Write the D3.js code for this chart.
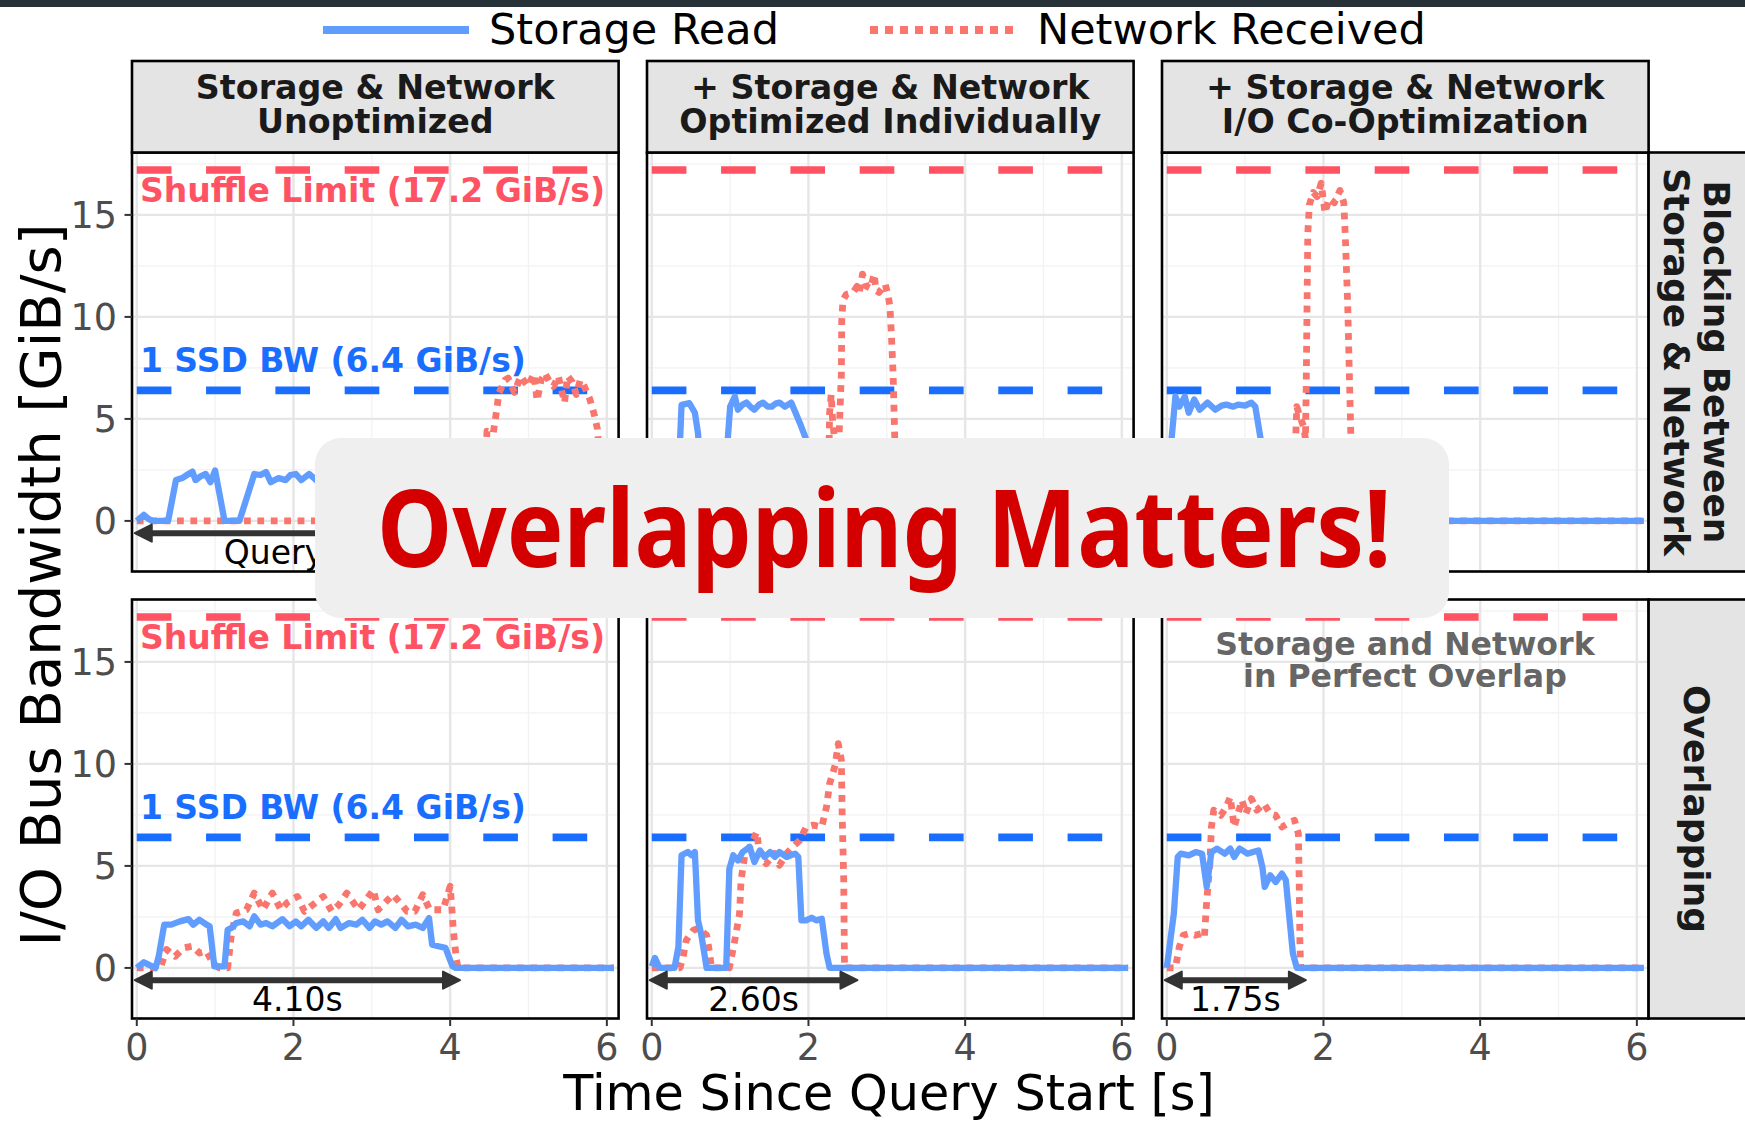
<!DOCTYPE html>
<html><head><meta charset="utf-8">
<script src="https://cdn.jsdelivr.net/npm/d3@7"></script>
<style>
html,body{margin:0;padding:0;background:#fff;}
svg{display:block;font-family:"DejaVu Sans",sans-serif;}
</style>
</head><body>
<svg id="chart" width="1745" height="1123"></svg>
<script>
// ---------------- DATA ----------------
const columnLabels = [["Storage & Network", "Unoptimized"],
                      ["+ Storage & Network", "Optimized Individually"],
                      ["+ Storage & Network", "I/O Co-Optimization"]];
const rowLabels = [["Blocking Between", "Storage & Network"], ["Overlapping"]];
const seriesNames = ["Storage Read", "Network Received"];
const xTicks = [0, 2, 4, 6];
const xMinor = [1, 3, 5];
const yTicks = [0, 5, 10, 15];
const yMinor = [2.5, 7.5, 12.5, 17.5];
const shuffleLimit = 17.2;
const ssdBandwidth = 6.4;
const shuffleLabel = "Shuffle Limit (17.2 GiB/s)";
const ssdLabel = "1 SSD BW (6.4 GiB/s)";
const overlapNote = ["Storage and Network", "in Perfect Overlap"];
const headline = "Overlapping Matters!";

// query durations [row][col] and their labels (top-row labels mostly hidden by the headline box)
const queryDurations = [[6.10, 3.10, 2.35], [4.10, 2.60, 1.75]];
const durationLabels = [["Query Time: 6.10s", "", ""],
                        ["4.10s", "2.60s", "1.75s"]];

// [time s, GiB/s]
const storageUnoptBlocking = [[0,0],[0.09,0.3],[0.15,0.1],[0.2,0],[0.4,0],[0.5,2.0],[0.58,2.1],[0.64,2.25],[0.71,2.42],[0.75,2.0],[0.82,2.2],[0.88,2.3],[0.94,1.9],[1.0,2.47],[1.12,0],[1.31,0],[1.5,2.3],[1.58,2.25],[1.65,2.4],[1.71,1.9],[1.81,2.1],[1.9,2.0],[1.96,2.25],[2.03,2.3],[2.1,2.0],[2.2,2.3],[2.29,2.0],[2.38,2.3],[2.47,2.0],[2.56,2.35],[2.65,2.0],[2.75,2.25],[2.85,2.1],[2.95,2.35],[3.05,2.0],[3.15,2.3],[3.25,2.05],[3.35,2.3],[3.45,2.0],[3.55,2.25],[3.65,2.0],[3.75,2.4],[3.8,1.1],[3.95,1.0],[4.05,0.1],[4.1,0],[6.09,0]];
const networkUnoptBlocking = [[0,0],[4.4,0],[4.45,2.5],[4.47,4.4],[4.55,4.3],[4.6,5.6],[4.62,6.25],[4.7,6.9],[4.74,7.0],[4.82,6.3],[4.9,7.1],[4.99,6.6],[5.07,7.2],[5.11,5.9],[5.16,6.9],[5.21,7.25],[5.27,6.8],[5.32,6.6],[5.38,7.1],[5.46,5.8],[5.5,7.1],[5.56,6.8],[5.61,6.2],[5.66,6.9],[5.7,6.7],[5.78,6.0],[5.84,5.2],[5.88,4.5],[5.93,1.5],[5.96,0],[6.09,0]];

const storageIndivBlocking = [[0,0],[0.3,0],[0.34,2.0],[0.38,5.69],[0.48,5.77],[0.55,5.3],[0.59,4.3],[0.64,1.5],[0.7,0],[0.92,0],[0.97,4.0],[1.0,5.6],[1.06,6.1],[1.1,5.45],[1.16,5.7],[1.21,5.8],[1.26,5.6],[1.31,5.45],[1.37,5.7],[1.42,5.8],[1.48,5.6],[1.53,5.6],[1.58,5.75],[1.63,5.8],[1.7,5.6],[1.78,5.8],[1.89,4.8],[1.97,4.0],[2.0,2.4],[2.1,2.3],[2.17,2.4],[2.23,0.7],[2.27,0],[6.09,0]];
const networkIndivBlocking = [[0,0],[2.24,0],[2.26,3.0],[2.27,5.3],[2.29,6.2],[2.31,4.8],[2.35,3.5],[2.39,4.1],[2.42,7.25],[2.425,9.85],[2.44,10.8],[2.48,11.1],[2.57,11.2],[2.62,11.5],[2.65,11.2],[2.69,12.1],[2.74,11.5],[2.79,11.4],[2.84,12.1],[2.86,11.3],[2.9,11.2],[2.98,11.6],[3.02,11.0],[3.04,10.5],[3.06,9.0],[3.08,7.25],[3.1,4.3],[3.12,0],[6.09,0]];

const storageCooptBlocking = [[0,0],[0.03,1.0],[0.06,3.97],[0.11,6.1],[0.16,5.6],[0.23,6.1],[0.28,5.3],[0.35,5.95],[0.42,5.45],[0.52,5.8],[0.62,5.45],[0.7,5.65],[0.76,5.7],[0.85,5.6],[0.91,5.7],[1.0,5.65],[1.08,5.8],[1.13,5.6],[1.2,3.97],[1.25,1.5],[1.3,0],[6.09,0]];
const networkCooptBlocking = [[0,0],[1.62,0],[1.64,3.5],[1.66,5.6],[1.7,5.1],[1.75,4.6],[1.77,4.0],[1.78,6.6],[1.79,10.5],[1.8,14.1],[1.82,15.5],[1.87,16.1],[1.92,15.9],[1.97,16.55],[2.02,15.1],[2.07,15.8],[2.14,15.6],[2.21,16.2],[2.26,15.6],[2.28,13.8],[2.31,10.5],[2.33,7.25],[2.35,4.1],[2.38,0],[6.09,0]];

const storageUnoptOverlap = [[0,0],[0.09,0.28],[0.15,0.16],[0.24,0],[0.28,0.57],[0.35,2.12],[0.44,2.12],[0.55,2.28],[0.66,2.39],[0.72,2.12],[0.8,2.36],[0.89,2.12],[0.93,2.04],[0.99,0.08],[1.12,0.08],[1.16,1.87],[1.21,1.96],[1.27,2.2],[1.36,2.28],[1.44,2.04],[1.5,2.53],[1.58,2.12],[1.65,2.2],[1.73,2.04],[1.86,2.39],[1.95,2.04],[2.03,2.28],[2.1,2.04],[2.19,2.36],[2.29,1.96],[2.38,2.28],[2.45,1.96],[2.54,2.39],[2.6,1.96],[2.71,2.2],[2.8,2.12],[2.88,2.36],[2.97,1.96],[3.04,2.28],[3.12,2.12],[3.2,2.28],[3.3,1.96],[3.38,2.36],[3.46,2.04],[3.56,2.12],[3.65,1.96],[3.73,2.44],[3.77,1.14],[3.85,1.06],[3.94,0.98],[4.03,0.08],[4.07,0],[6.09,0]];
const networkUnoptOverlap = [[0,0],[0.3,0],[0.38,0.9],[0.49,0.57],[0.6,0.98],[0.71,1.06],[0.8,0.73],[0.89,0.82],[0.97,0.24],[1.05,0],[1.16,0],[1.21,1.71],[1.27,2.69],[1.4,2.85],[1.5,3.67],[1.61,2.85],[1.73,3.67],[1.84,2.85],[1.92,3.2],[2.05,3.5],[2.14,2.77],[2.25,3.1],[2.38,3.5],[2.49,2.77],[2.58,3.1],[2.68,3.67],[2.83,2.85],[2.92,3.3],[3.02,3.83],[3.08,2.85],[3.17,3.2],[3.27,3.59],[3.4,3.02],[3.45,2.77],[3.55,2.77],[3.65,3.59],[3.74,2.85],[3.91,2.85],[4.0,4.0],[4.02,3.02],[4.04,1.87],[4.08,0.4],[4.1,0],[6.09,0]];

const storageIndivOverlap = [[0,0.08],[0.04,0.49],[0.1,0],[0.29,0],[0.34,1.03],[0.38,5.52],[0.46,5.68],[0.51,5.52],[0.55,5.68],[0.59,2.33],[0.63,1.68],[0.7,0],[0.95,0],[0.99,4.86],[1.04,5.52],[1.1,5.27],[1.16,5.68],[1.25,5.93],[1.31,5.19],[1.38,5.76],[1.44,5.44],[1.51,5.68],[1.57,5.44],[1.63,5.68],[1.72,5.44],[1.83,5.6],[1.87,5.44],[1.91,2.33],[1.97,2.33],[2.04,2.46],[2.1,2.33],[2.17,2.41],[2.23,0.7],[2.27,0],[6.08,0]];
const networkIndivOverlap = [[0,0],[0.36,0],[0.4,0.54],[0.44,1.36],[0.53,1.85],[0.59,1.93],[0.7,1.6],[0.74,0.7],[0.76,0],[0.99,0],[1.06,1.36],[1.12,2.66],[1.14,4.3],[1.19,5.6],[1.25,5.93],[1.34,6.66],[1.38,5.44],[1.46,5.11],[1.57,5.6],[1.63,5.03],[1.72,5.6],[1.8,5.93],[1.89,6.26],[1.97,6.91],[2.06,7.0],[2.17,6.91],[2.23,7.89],[2.27,9.03],[2.34,9.93],[2.38,10.99],[2.42,10.19],[2.43,7.58],[2.45,4.3],[2.46,0],[6.08,0]];

const storageCooptOverlap = [[0,0],[0.09,2.66],[0.14,5.44],[0.18,5.6],[0.28,5.52],[0.37,5.68],[0.45,5.6],[0.51,3.97],[0.57,5.68],[0.64,5.85],[0.74,5.6],[0.81,5.85],[0.86,5.44],[0.93,5.85],[1.03,5.6],[1.1,5.68],[1.17,5.76],[1.22,4.95],[1.25,3.97],[1.32,4.54],[1.39,4.21],[1.47,4.62],[1.52,4.3],[1.56,2.66],[1.61,0.7],[1.66,0],[6.09,0]];
const networkCooptOverlap = [[0,0],[0.11,0],[0.16,1.03],[0.21,1.6],[0.28,1.68],[0.36,1.6],[0.45,1.68],[0.48,1.52],[0.51,3.31],[0.55,5.11],[0.57,6.91],[0.6,7.73],[0.69,7.48],[0.76,7.89],[0.81,8.38],[0.86,6.91],[0.96,8.22],[1.01,7.56],[1.08,8.3],[1.15,7.73],[1.24,8.06],[1.32,7.56],[1.39,7.48],[1.47,6.91],[1.54,7.07],[1.63,7.24],[1.68,6.58],[1.69,4.3],[1.7,1.03],[1.71,0],[6.09,0]];

// panels [row][col] -> {storage, network}
const panelSeries = [
  [{storage: storageUnoptBlocking, network: networkUnoptBlocking},
   {storage: storageIndivBlocking, network: networkIndivBlocking},
   {storage: storageCooptBlocking, network: networkCooptBlocking}],
  [{storage: storageUnoptOverlap, network: networkUnoptOverlap},
   {storage: storageIndivOverlap, network: networkIndivOverlap},
   {storage: storageCooptOverlap, network: networkCooptOverlap}]
];

// ---------------- STYLE / LAYOUT ----------------
const colStorage = "#619CFF", colNetwork = "#F8766D";
const colShuffle = "#FF5263", colSSD = "#1A6EFF";
const colLeft = [132, 647, 1162], panelW = 486.6;
const rowTop = [152.5, 599.5], panelH = 419;
const xDomain = [-0.061, 6.15], yDomain = [-2.48, 18.06];

const svg = d3.select("#chart");
svg.append("rect").attr("x",0).attr("y",0).attr("width",1745).attr("height",1123).attr("fill","#fff");
svg.append("rect").attr("x",0).attr("y",0).attr("width",1745).attr("height",7).attr("fill","#263238");

const defs = svg.append("defs");

const line = (xs, ys) => d3.line().x(d => xs(d[0])).y(d => ys(d[1])).curve(d3.curveLinear);

for (let r = 0; r < 2; r++) {
  for (let c = 0; c < 3; c++) {
    const x = d3.scaleLinear().domain(xDomain).range([colLeft[c], colLeft[c] + panelW]);
    const y = d3.scaleLinear().domain(yDomain).range([rowTop[r] + panelH, rowTop[r]]);
    const id = `clip-${r}-${c}`;
    defs.append("clipPath").attr("id", id).append("rect")
      .attr("x", colLeft[c]).attr("y", rowTop[r]).attr("width", panelW).attr("height", panelH);
    const g = svg.append("g");
    const gp = g.append("g").attr("clip-path", `url(#${id})`);
    gp.append("rect").attr("x", colLeft[c]).attr("y", rowTop[r]).attr("width", panelW).attr("height", panelH).attr("fill", "#fff");
    // minor grid
    gp.selectAll(".mx").data(xMinor).enter().append("line")
      .attr("x1", d => x(d)).attr("x2", d => x(d)).attr("y1", rowTop[r]).attr("y2", rowTop[r] + panelH)
      .attr("stroke", "#f2f2f2").attr("stroke-width", 1.3);
    gp.selectAll(".my").data(yMinor).enter().append("line")
      .attr("y1", d => y(d)).attr("y2", d => y(d)).attr("x1", colLeft[c]).attr("x2", colLeft[c] + panelW)
      .attr("stroke", "#f2f2f2").attr("stroke-width", 1.3);
    // major grid
    gp.selectAll(".Mx").data(xTicks).enter().append("line")
      .attr("x1", d => x(d)).attr("x2", d => x(d)).attr("y1", rowTop[r]).attr("y2", rowTop[r] + panelH)
      .attr("stroke", "#e6e6e6").attr("stroke-width", 2.4);
    gp.selectAll(".My").data(yTicks).enter().append("line")
      .attr("y1", d => y(d)).attr("y2", d => y(d)).attr("x1", colLeft[c]).attr("x2", colLeft[c] + panelW)
      .attr("stroke", "#e6e6e6").attr("stroke-width", 2.4);

    // reference lines
    [[shuffleLimit, colShuffle], [ssdBandwidth, colSSD]].forEach(([v, col]) => {
      gp.append("line").attr("x1", x(0)).attr("x2", x(6.09)).attr("y1", y(v)).attr("y2", y(v))
        .attr("stroke", col).attr("stroke-width", 7.6).attr("stroke-dasharray", "34.65,34.65");
    });
    if (c === 0) {
      gp.append("text").attr("x", x(0.04)).attr("y", y(15.65)).text(shuffleLabel)
        .attr("fill", colShuffle).attr("font-weight", "bold").attr("font-size", 33);
      gp.append("text").attr("x", x(0.04)).attr("y", y(7.3)).text(ssdLabel)
        .attr("fill", colSSD).attr("font-weight", "bold").attr("font-size", 33);
    }
    if (r === 1 && c === 2) {
      overlapNote.forEach((t, i) => {
        gp.append("text").attr("x", x(3.04)).attr("y", y(15.33 - i * 1.55)).text(t)
          .attr("text-anchor", "middle").attr("fill", "#666666").attr("font-weight", "bold").attr("font-size", 31.6);
      });
    }

    // data lines: network first, storage on top
    const s = panelSeries[r][c];
    gp.append("path").attr("d", line(x, y)(s.network)).attr("fill", "none")
      .attr("stroke", colNetwork).attr("stroke-width", 6.8).attr("stroke-dasharray", "6.8,6.6")
      .attr("stroke-linejoin", "round");
    gp.append("path").attr("d", line(x, y)(s.storage)).attr("fill", "none")
      .attr("stroke", colStorage).attr("stroke-width", 6.3).attr("stroke-linejoin", "round");

    // duration arrow
    const ay = y(-0.6), ax0 = x(0), ax1 = x(queryDurations[r][c]);
    gp.append("line").attr("x1", ax0 + 6).attr("x2", ax1 - 6).attr("y1", ay).attr("y2", ay)
      .attr("stroke", "#333").attr("stroke-width", 6);
    gp.append("path").attr("d", `M${ax0-2},${ay} L${ax0+15},${ay-8.5} L${ax0+15},${ay+8.5} Z`)
      .attr("fill", "#333").attr("stroke", "#333").attr("stroke-width", 2).attr("stroke-linejoin", "round");
    gp.append("path").attr("d", `M${ax1+2},${ay} L${ax1-15},${ay-8.5} L${ax1-15},${ay+8.5} Z`)
      .attr("fill", "#333").attr("stroke", "#333").attr("stroke-width", 2).attr("stroke-linejoin", "round");
    if (durationLabels[r][c]) {
      g.append("text").attr("x", x(queryDurations[r][c] / 2)).attr("y", y(-2.12))
        .attr("text-anchor", "middle").attr("font-size", 33).attr("fill", "#000").text(durationLabels[r][c]);
    }

    // panel border
    g.append("rect").attr("x", colLeft[c]).attr("y", rowTop[r]).attr("width", panelW).attr("height", panelH)
      .attr("fill", "none").attr("stroke", "#000").attr("stroke-width", 2.6);

    // y axis
    if (c === 0) {
      const ya = g.append("g");
      yTicks.forEach(v => {
        ya.append("line").attr("x1", colLeft[c] - 7.5).attr("x2", colLeft[c]).attr("y1", y(v)).attr("y2", y(v))
          .attr("stroke", "#333").attr("stroke-width", 2);
        ya.append("text").attr("x", colLeft[c] - 15).attr("y", y(v)).attr("dy", "0.36em")
          .attr("text-anchor", "end").attr("font-size", 36.5).attr("fill", "#4d4d4d").text(v);
      });
    }
    // x axis
    if (r === 1) {
      const xa = g.append("g");
      xTicks.forEach(v => {
        xa.append("line").attr("x1", x(v)).attr("x2", x(v)).attr("y1", rowTop[r] + panelH).attr("y2", rowTop[r] + panelH + 7.5)
          .attr("stroke", "#333").attr("stroke-width", 2);
        xa.append("text").attr("x", x(v)).attr("y", 1060)
          .attr("text-anchor", "middle").attr("font-size", 36.5).attr("fill", "#4d4d4d").text(v);
      });
    }
  }
}

// top strips
columnLabels.forEach((lab, c) => {
  svg.append("rect").attr("x", colLeft[c]).attr("y", 61).attr("width", panelW).attr("height", 91.5)
    .attr("fill", "#e4e4e4").attr("stroke", "#000").attr("stroke-width", 2.6);
  lab.forEach((t, i) => {
    svg.append("text").attr("x", colLeft[c] + panelW / 2).attr("y", 99 + i * 34).text(t)
      .attr("text-anchor", "middle").attr("font-weight", "bold").attr("font-size", 33.3).attr("fill", "#1a1a1a");
  });
});
// right strips
rowLabels.forEach((lab, r) => {
  svg.append("rect").attr("x", 1648.6).attr("y", rowTop[r]).attr("width", 100).attr("height", panelH)
    .attr("fill", "#e4e4e4").attr("stroke", "#000").attr("stroke-width", 2.6);
  const cx = 1697, cy = rowTop[r] + panelH / 2;
  const gl = svg.append("g").attr("transform", `translate(${cx},${cy}) rotate(90)`);
  const n = lab.length;
  lab.forEach((t, i) => {
    gl.append("text").attr("x", 0).attr("y", (i - (n - 1) / 2) * 39.5).attr("dy", "0.36em").text(t)
      .attr("text-anchor", "middle").attr("font-weight", "bold").attr("font-size", 36).attr("fill", "#1a1a1a");
  });
});

// axis titles
svg.append("text").attr("x", 889).attr("y", 1110).attr("text-anchor", "middle")
  .attr("font-size", 49.3).attr("fill", "#000").text("Time Since Query Start [s]");
svg.append("text").attr("transform", "translate(40,585) rotate(-90)").attr("text-anchor", "middle")
  .attr("dy", "0.36em").attr("font-size", 56).attr("fill", "#000").text("I/O Bus Bandwidth [GiB/s]");

// legend
const lg = svg.append("g");
lg.append("line").attr("x1", 323).attr("x2", 469).attr("y1", 30).attr("y2", 30)
  .attr("stroke", colStorage).attr("stroke-width", 8);
lg.append("text").attr("x", 489).attr("y", 43.5).attr("font-size", 43).text(seriesNames[0]);
lg.append("line").attr("x1", 870).attr("x2", 1020).attr("y1", 30).attr("y2", 30)
  .attr("stroke", colNetwork).attr("stroke-width", 8).attr("stroke-dasharray", "8,7");
lg.append("text").attr("x", 1037).attr("y", 43.5).attr("font-size", 43).text(seriesNames[1]);

// headline overlay
svg.append("rect").attr("x", 315).attr("y", 438).attr("width", 1134).attr("height", 180).attr("rx", 26)
  .attr("fill", "#efefef");
svg.append("text").attr("x", 377).attr("y", 566.5).attr("font-family", "'Noto Sans', sans-serif")
  .attr("font-weight", "bold").attr("font-size", 107).attr("fill", "#D40000")
  .attr("textLength", 1014).attr("lengthAdjust", "spacingAndGlyphs").text(headline);
</script>
</body></html>
